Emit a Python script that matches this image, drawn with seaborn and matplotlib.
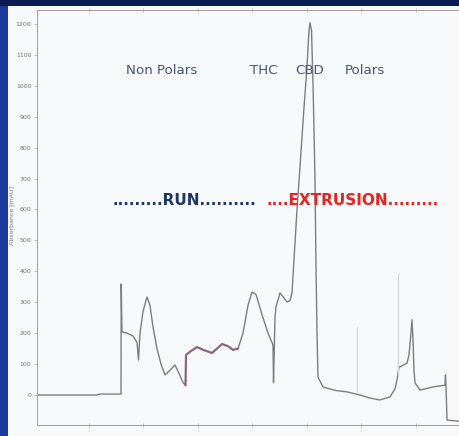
import numpy as np
import pandas as pd
import matplotlib
matplotlib.use("Agg")
import matplotlib.pyplot as plt
import seaborn as sns

# ---- data (time in minutes, absorbance in mAU) ----
px = [37, 97, 100, 121, 121.2, 122, 127, 133, 137, 138.5, 140, 143, 147, 150, 153, 157, 161,
      165, 170, 175, 179, 183, 185.5, 186, 190, 197, 204, 212, 217, 222, 228, 233, 238, 243,
      248, 252, 256, 262, 268, 273, 273.5, 275, 276, 280, 283, 287, 290, 292, 294, 297, 300,
      304, 307, 309, 310, 311.5, 313, 315, 316, 317, 318, 323, 335, 347, 360, 370, 380, 390,
      395, 397, 399, 400, 405, 407, 409, 411, 412, 413, 414, 415, 420, 433, 445, 445.5, 446,
      447, 459]
time_min = [(p - 34) / 54.5 for p in px]
absorbance = [0, 0, 3, 3, 359, 204, 200, 191, 170, 113, 200, 270, 317, 290, 220, 150, 100,
              65, 80, 97, 70, 40, 32, 130, 140, 155, 145, 136, 150, 165, 158, 146, 150, 200,
              290, 333, 325, 260, 200, 162, 40, 250, 285, 330, 318, 301, 305, 330, 437, 600,
              738, 930, 1061, 1180, 1204, 1180, 1010, 700, 414, 200, 58, 26, 15, 10, 0, -10,
              -16, -6, 20, 49, 90, 91, 100, 103, 130, 200, 243, 180, 80, 39, 16, 26, 32, 65,
              30, -81, -85]

# faint ghost spikes
ghost_px = [357, 398]
ghost_time = [(p - 34) / 54.5 for p in ghost_px]
ghost_low = [10, 60]
ghost_high = [220, 395]

region_labels = ["Non Polars", "THC", "CBD", "Polars"]
region_px = [162, 264, 310, 365]

y_ticks = [0, 100, 200, 300, 400, 500, 600, 700, 800, 900, 1000, 1100, 1200]

df = pd.DataFrame({"time": time_min, "abs": absorbance})

W, H = 459, 436
fig = plt.figure(figsize=(W / 100, H / 100), dpi=100, facecolor="#1a3a9c")
bg = fig.add_axes([0, 0, 1, 1], zorder=-5)
bg.set_axis_off()
bg.set_xlim(0, W)
bg.set_ylim(H, 0)
bg.add_patch(plt.Rectangle((0, 0), W, 6, facecolor="#0b1c52", edgecolor="none"))
bg.add_patch(plt.Rectangle((8, 6), W, H, facecolor="#f7f8fa", edgecolor="none"))

ax = fig.add_axes([37 / W, 1 - 425 / H, 1 - 37 / W, (425 - 10) / H])
ax.set_facecolor("none")

sns.lineplot(data=df, x="time", y="abs", sort=False, estimator=None, ax=ax,
             color="#7d7d7d", linewidth=1.0)
# purplish tint in the middle section
seg = df[(df.time > (185 - 34) / 54.5) & (df.time < (241 - 34) / 54.5)]
sns.lineplot(data=seg, x="time", y="abs", sort=False, estimator=None, ax=ax,
             color="#8b5a78", linewidth=1.6, alpha=0.8)
ax.vlines(ghost_time, ghost_low, ghost_high, color="#d2d2d2", linewidth=0.8)

ax.set_xlim((37 - 34) / 54.5, (459 - 34) / 54.5)
ax.set_ylim((395 - 425) / 0.30917, (395 - 10) / 0.30917)
ax.set_yticks(y_ticks)
ax.set_yticklabels([str(v) for v in y_ticks], fontsize=4.5, color="#777777")
ax.set_xticks([1, 2, 3, 4, 5, 6, 7])
ax.set_xticklabels([])
ax.tick_params(axis="y", length=2.5, width=0.5, color="#aaaaaa", pad=1.5)
ax.tick_params(axis="x", length=3, width=0.5, color="#aaaaaa", top=True, direction="inout")
ax.set_xlabel("")
ax.set_ylabel("")
for s in ["left", "bottom", "top"]:
    ax.spines[s].set_color("#a0a0a0")
    ax.spines[s].set_linewidth(0.7)
ax.spines["right"].set_visible(False)

fig.text(12 / W, 1 - 215 / H, "Absorbance [mAU]", rotation=90, fontsize=4.5,
         color="#777777", ha="center", va="center")

for lab, p in zip(region_labels, region_px):
    fig.text(p / W, 1 - 70 / H, lab, ha="center", va="center", fontsize=9.6, color="#46557a")

fig.text(112 / W, 1 - 200 / H, ".........RUN..........", fontsize=11, fontweight="bold",
         color="#1f3566", ha="left", va="center")
fig.text(266 / W, 1 - 200 / H, "....EXTRUSION.........", fontsize=11, fontweight="bold",
         color="#e8231f", ha="left", va="center")

fig.savefig("out.png", dpi=100, facecolor=fig.get_facecolor())
